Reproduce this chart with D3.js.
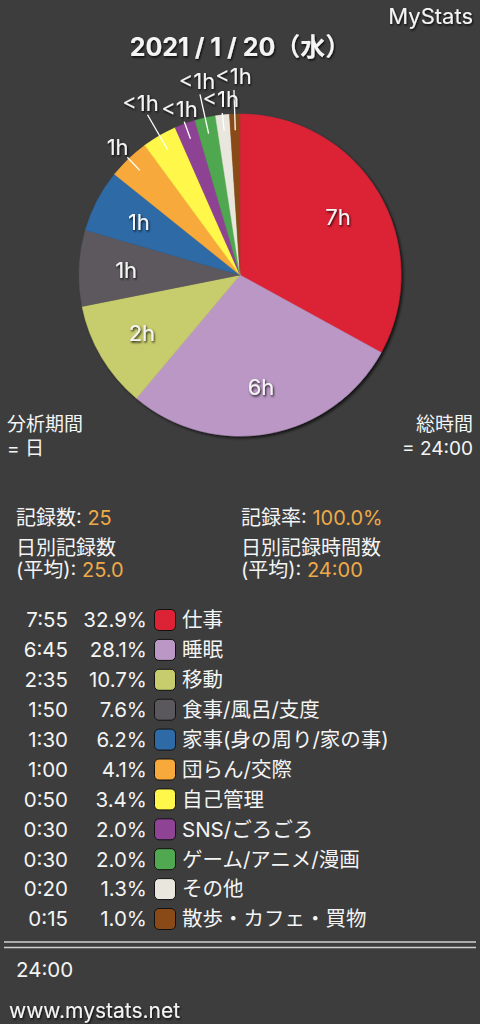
<!DOCTYPE html>
<html><head><meta charset="utf-8">
<script src="https://cdn.jsdelivr.net/npm/d3@7"></script>
<style>
html,body{margin:0;padding:0;background:#3d3d3d;}
svg{display:block;}
text{font-family:Inter,"Noto Sans CJK JP",Arial,sans-serif;fill:#f4f4f4;}
</style></head><body>
<svg id="c" width="480" height="1024"></svg>
<script>
const categories = ["仕事","睡眠","移動","食事/風呂/支度","家事(身の周り/家の事)","団らん/交際","自己管理","SNS/ごろごろ","ゲーム/アニメ/漫画","その他","散歩・カフェ・買物"];
const minutes = [475,405,155,110,90,60,50,30,30,20,15];
const timeLabels = ["7:55","6:45","2:35","1:50","1:30","1:00","0:50","0:30","0:30","0:20","0:15"];
const percents = ["32.9%","28.1%","10.7%","7.6%","6.2%","4.1%","3.4%","2.0%","2.0%","1.3%","1.0%"];
const colors = ["#dc2235","#ba97c4","#c7cc6d","#5b585d","#2e6aa6","#f8a93b","#fff84b","#8e4394","#50a850","#e9e7dd","#8a4a18"];
const title = "2021 / 1 / 20（水）";
const totalLabel = "24:00";

const svg = d3.select("#c");
const defs = svg.append("defs");
const f1 = defs.append("filter").attr("id","ts").attr("x","-20%").attr("y","-20%").attr("width","140%").attr("height","140%");
f1.append("feDropShadow").attr("dx",1).attr("dy",1.5).attr("stdDeviation",0.8).attr("flood-color","#000").attr("flood-opacity",0.85);
const f2 = defs.append("filter").attr("id","ps").attr("x","-10%").attr("y","-10%").attr("width","120%").attr("height","120%");
f2.append("feDropShadow").attr("dx",2).attr("dy",2).attr("stdDeviation",1.5).attr("flood-color","#000").attr("flood-opacity",0.7);

svg.append("rect").attr("width",480).attr("height",1024).attr("fill","#3d3d3d");

// header
svg.append("text").attr("x",473).attr("y",24).attr("text-anchor","end").attr("font-size",22).attr("filter","url(#ts)").text("MyStats");
svg.append("text").attr("x",240).attr("y",56).attr("text-anchor","middle").attr("font-size",25).attr("font-weight","bold").attr("filter","url(#ts)").text(title);

// pie
const cx = 240, cy = 275, R = 161;
const data = categories.map((c,i)=>({name:c,value:minutes[i],color:colors[i]}));
const pie = d3.pie().sort(null).value(d=>d.value);
const arcs = pie(data);
const arc = d3.arc().innerRadius(0).outerRadius(R);
const g = svg.append("g").attr("transform",`translate(${cx},${cy})`);
g.append("g").attr("filter","url(#ps)").selectAll("path").data(arcs).join("path")
  .attr("d",arc).attr("fill",d=>d.data.color).attr("stroke",d=>d.data.color).attr("stroke-width",0.5);

const labelText = d => { const h = Math.floor(d.data.value/60); return h>0 ? h+"h" : "<1h"; };
const inner = arcs.filter(d => (d.endAngle-d.startAngle) >= 20*Math.PI/180);
const outer = arcs.filter(d => (d.endAngle-d.startAngle) < 20*Math.PI/180);
const pt = (a,r)=>[Math.sin(a)*r, -Math.cos(a)*r];

g.selectAll("text.in").data(inner).join("text").attr("class","in")
  .attr("x",d=>pt((d.startAngle+d.endAngle)/2,114)[0])
  .attr("y",d=>pt((d.startAngle+d.endAngle)/2,114)[1])
  .attr("text-anchor","middle").attr("dominant-baseline","central")
  .attr("font-size",22).attr("filter","url(#ts)").text(labelText);

const outR = (i)=> i%2===0 ? 177 : 199;
g.selectAll("line.ld").data(outer).join("line").attr("class","ld")
  .attr("x1",d=>pt((d.startAngle+d.endAngle)/2,R*0.9)[0])
  .attr("y1",d=>pt((d.startAngle+d.endAngle)/2,R*0.9)[1])
  .attr("x2",(d,i)=>pt((d.startAngle+d.endAngle)/2,outR(i)-14)[0])
  .attr("y2",(d,i)=>pt((d.startAngle+d.endAngle)/2,outR(i)-14)[1])
  .attr("stroke","#ffffff").attr("stroke-width",1.3);
g.selectAll("text.out").data(outer).join("text").attr("class","out")
  .attr("x",(d,i)=>pt((d.startAngle+d.endAngle)/2,outR(i))[0])
  .attr("y",(d,i)=>pt((d.startAngle+d.endAngle)/2,outR(i))[1])
  .attr("text-anchor","middle").attr("dominant-baseline","central")
  .attr("font-size",22).attr("filter","url(#ts)").text(labelText);

// side info
const fs = 19;
svg.append("text").attr("x",7).attr("y",431).attr("font-size",fs).text("分析期間");
svg.append("text").attr("x",7).attr("y",455).attr("font-size",fs).text("= 日");
svg.append("text").attr("x",473).attr("y",431).attr("text-anchor","end").attr("font-size",fs).text("総時間");
svg.append("text").attr("x",473).attr("y",455).attr("text-anchor","end").attr("font-size",fs).text("= "+totalLabel);

// stats
const orange = "#efaa48";
const sfs = 20;
function stat(x,y,label,val){
  const t = svg.append("text").attr("x",x).attr("y",y).attr("font-size",sfs);
  t.append("tspan").text(label);
  t.append("tspan").style("fill",orange).text(val);
}
stat(16,525,"記録数: ","25");
stat(241,525,"記録率: ","100.0%");
svg.append("text").attr("x",16).attr("y",555).attr("font-size",sfs).text("日別記録数");
stat(16,577,"(平均): ","25.0");
svg.append("text").attr("x",241).attr("y",555).attr("font-size",sfs).text("日別記録時間数");
stat(241,577,"(平均): ","24:00");

// legend
const lfs = 20.5;
const y0 = 620, dy = 29.9;
const rows = svg.append("g").selectAll("g").data(data).join("g")
  .attr("transform",(d,i)=>`translate(0,${y0+i*dy})`);
rows.append("text").attr("x",68).attr("y",0).attr("dy","0.36em").attr("text-anchor","end").attr("font-size",lfs).text((d,i)=>timeLabels[i]);
rows.append("text").attr("x",147).attr("y",0).attr("dy","0.36em").attr("text-anchor","end").attr("font-size",lfs).text((d,i)=>percents[i]);
rows.append("rect").attr("x",154.5).attr("y",-10.5).attr("width",21).attr("height",21).attr("rx",4.5)
  .attr("fill",d=>d.color).attr("stroke","#111").attr("stroke-width",1);
rows.append("text").attr("x",182).attr("y",0).attr("dy","0.36em").attr("font-size",lfs).text(d=>d.name);

// double line
svg.append("line").attr("x1",4).attr("x2",476).attr("y1",942).attr("y2",942).attr("stroke","#d0d0d0").attr("stroke-width",1.6);
svg.append("line").attr("x1",4).attr("x2",476).attr("y1",947.5).attr("y2",947.5).attr("stroke","#d0d0d0").attr("stroke-width",1.6);

svg.append("text").attr("x",16).attr("y",977).attr("font-size",lfs).text(totalLabel);
svg.append("text").attr("x",9).attr("y",1018).attr("font-size",21).attr("filter","url(#ts)").text("www.mystats.net");
</script>
</body></html>
